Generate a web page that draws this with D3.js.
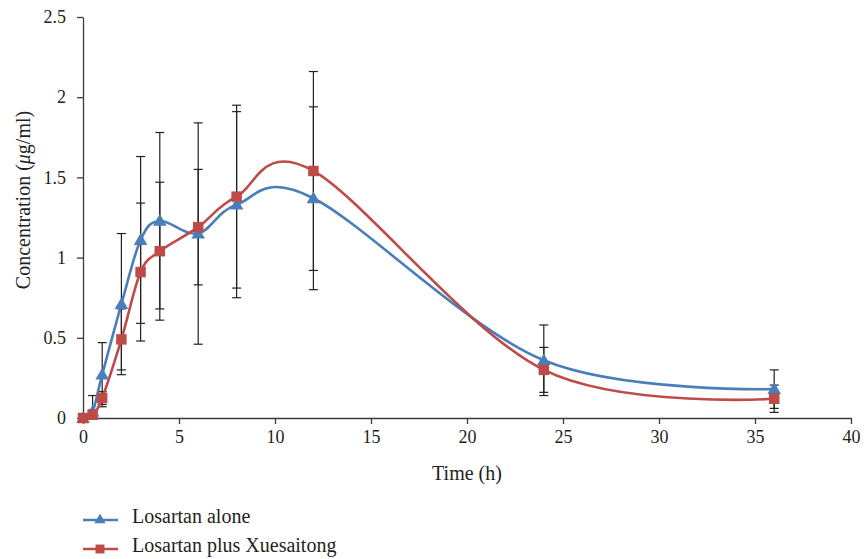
<!DOCTYPE html>
<html>
<head>
<meta charset="utf-8">
<script src="https://cdn.jsdelivr.net/npm/d3@7"></script>
<style>
  body { margin: 0; background: #fff; }
  text { font-family: "Liberation Serif", "DejaVu Serif", serif; fill: #231f20; }
</style>
</head>
<body>
<div id="chart"></div>
<script>
// sampling times (h)
const times = [0, 0.5, 1, 2, 3, 4, 6, 8, 12, 24, 36];

// Losartan alone
const aloneMean = [0, 0.04, 0.27, 0.71, 1.11, 1.23, 1.15, 1.33, 1.37, 0.36, 0.18];
const aloneSD   = [0, 0.10, 0.20, 0.44, 0.52, 0.55, 0.69, 0.58, 0.57, 0.22, 0.12];

// Losartan plus Xuesaitong
const plusMean = [0, 0.02, 0.125, 0.49, 0.91, 1.04, 1.19, 1.38, 1.54, 0.30, 0.12];
const plusSD   = [0, 0.03, 0.04, 0.19, 0.43, 0.43, 0.36, 0.57, 0.62, 0.14, 0.085];

const xTicks = [0, 5, 10, 15, 20, 25, 30, 35, 40];
const yTicks = [0, 0.5, 1, 1.5, 2, 2.5];

const seriesNames = ["Losartan alone", "Losartan plus Xuesaitong"];
const seriesColors = ["#4a7ebb", "#be4b48"];

const width = 864, height = 559;
const margin = {top: 17, right: 13, bottom: 141, left: 83};

const svg = d3.select("#chart").append("svg")
    .attr("width", width)
    .attr("height", height);

const x = d3.scaleLinear([0, 40], [margin.left, width - margin.right]);
const y = d3.scaleLinear([0, 2.5], [height - margin.bottom, margin.top]);

// axes
const axisColor = "#3a3a3a";
const xAxis = svg.append("g")
    .attr("transform", `translate(0, ${y(0)})`)
    .call(d3.axisBottom(x).tickValues(xTicks).tickSize(6).tickSizeOuter(0).tickPadding(6)
        .tickFormat(d3.format("")));
const yAxis = svg.append("g")
    .attr("transform", `translate(${x(0)}, 0)`)
    .call(d3.axisLeft(y).tickValues(yTicks).tickSize(6).tickSizeOuter(0).tickPadding(11)
        .tickFormat(d => d));

[xAxis, yAxis].forEach(g => {
    g.select(".domain").attr("stroke", axisColor).attr("stroke-width", 1.3);
    g.selectAll(".tick line").attr("stroke", axisColor).attr("stroke-width", 1.3);
    g.selectAll(".tick text").attr("font-size", 18).attr("fill", "#231f20")
        .style("font-family", '"Liberation Serif", "DejaVu Serif", serif');
});

// axis titles
svg.append("text")
    .attr("x", x(20))
    .attr("y", 480)
    .attr("text-anchor", "middle")
    .attr("font-size", 20)
    .text("Time (h)");

const yTitle = svg.append("text")
    .attr("transform", `translate(30, 200) rotate(-90)`)
    .attr("text-anchor", "middle")
    .attr("font-size", 20);
yTitle.append("tspan").text("Concentration (");
yTitle.append("tspan").attr("font-style", "italic").text("μ");
yTitle.append("tspan").text("g/ml)");

const series = [
    {name: seriesNames[0], color: seriesColors[0], mean: aloneMean, sd: aloneSD, shape: d3.symbolTriangle},
    {name: seriesNames[1], color: seriesColors[1], mean: plusMean, sd: plusSD, shape: d3.symbolSquare}
].map(s => ({...s, points: times.map((t, i) => ({t: t, v: s.mean[i], sd: s.sd[i]}))}));

// error bars
const capW = 4.5;
series.forEach(s => {
    const eb = svg.append("g").attr("stroke", "#222").attr("stroke-width", 1.2);
    s.points.filter(d => d.sd > 0).forEach(d => {
        const cx = x(d.t), top = y(d.v + d.sd), bot = y(Math.max(d.v - d.sd, 0));
        eb.append("line").attr("x1", cx).attr("x2", cx).attr("y1", top).attr("y2", bot);
        eb.append("line").attr("x1", cx - capW).attr("x2", cx + capW).attr("y1", top).attr("y2", top);
        eb.append("line").attr("x1", cx - capW).attr("x2", cx + capW).attr("y1", bot).attr("y2", bot);
    });
});

// smoothed lines
const line = d3.line()
    .x(d => x(d.t))
    .y(d => y(d.v))
    .curve(d3.curveCardinal.tension(0));

series.forEach(s => {
    svg.append("path")
        .datum(s.points)
        .attr("fill", "none")
        .attr("stroke", s.color)
        .attr("stroke-width", 2.6)
        .attr("d", line);
});

function marker(s) {
    return s.shape === d3.symbolTriangle
        ? d3.symbol(d3.symbolTriangle, 80)()
        : d3.symbol(d3.symbolSquare, 110)();
}

series.forEach(s => {
    svg.append("g").selectAll("path")
        .data(s.points)
        .join("path")
        .attr("transform", d => `translate(${x(d.t)}, ${y(d.v) + (s.shape === d3.symbolTriangle ? 1 : 0)})`)
        .attr("d", marker(s))
        .attr("fill", s.color);
});

// legend
const legend = svg.append("g");
series.forEach((s, i) => {
    const ly = 520 + i * 29;
    legend.append("line")
        .attr("x1", 83).attr("x2", 118)
        .attr("y1", ly).attr("y2", ly)
        .attr("stroke", s.color).attr("stroke-width", 2.6);
    legend.append("path")
        .attr("transform", `translate(100, ${ly})`)
        .attr("d", s.shape === d3.symbolTriangle ? d3.symbol(d3.symbolTriangle, 55)() : d3.symbol(d3.symbolSquare, 80)())
        .attr("fill", s.color);
    legend.append("text")
        .attr("x", 132)
        .attr("y", ly + 3)
        .attr("font-size", 20)
        .text(s.name);
});
</script>
</body>
</html>
